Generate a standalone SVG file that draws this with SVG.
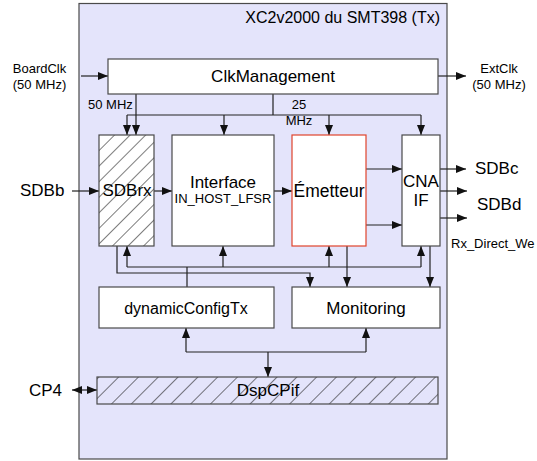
<svg xmlns="http://www.w3.org/2000/svg" width="537" height="461" viewBox="0 0 537 461">
<defs>
<style>
text{font-family:"Liberation Sans",Arial,sans-serif;fill:#000}
.box{fill:#fff;stroke:#4a4a4a;stroke-width:1.2}
.ln{fill:none;stroke:#222;stroke-width:1.2}
.arr{fill:none;stroke:#222;stroke-width:1.2;marker-end:url(#ah)}
.c{text-anchor:middle}
</style>
<marker id="ah" markerUnits="userSpaceOnUse" markerWidth="11" markerHeight="8" refX="10" refY="4" orient="auto-start-reverse">
<path d="M0,0 L10,4 L0,8 z" fill="#111"/>
</marker>
<pattern id="h1" patternUnits="userSpaceOnUse" width="11" height="11" patternTransform="rotate(45)">
<rect width="11" height="11" fill="#fff"/>
<line x1="0" y1="0" x2="0" y2="11" stroke="#111" stroke-width="1.1"/>
</pattern>
<pattern id="h2" patternUnits="userSpaceOnUse" width="14" height="14" patternTransform="rotate(45)">
<rect width="14" height="14" fill="#e4e4fb"/>
<line x1="0" y1="0" x2="0" y2="14" stroke="#111" stroke-width="1.1"/>
</pattern>
</defs>

<g id="fpga">
<rect x="79" y="3.5" width="368" height="455.5" fill="#e4e4fb" stroke="#4a4a4a" stroke-width="1.2"/>
<text x="440" y="23" font-size="16" text-anchor="end">XC2v2000 du SMT398 (Tx)</text>
</g>

<g id="connectors">
<path class="arr" d="M81,76 H108"/>
<path class="arr" d="M438,76 H466"/>
<path class="arr" d="M136,94 V135"/>
<path class="ln" d="M273,94 V115 M127,115 H421"/>
<path class="arr" d="M127,115 V135"/>
<path class="arr" d="M224,115 V135"/>
<path class="arr" d="M329,115 V135"/>
<path class="arr" d="M421,115 V135"/>
<path class="arr" d="M72,191 H99"/>
<path class="arr" d="M154,191 H172"/>
<path class="arr" d="M274,191 H292"/>
<path class="arr" d="M366,169 H402"/>
<path class="arr" d="M366,225 H402"/>
<path class="arr" d="M440,169 H466"/>
<path class="arr" d="M440,191 H467"/>
<path class="arr" d="M440,218 H467"/>
<path class="ln" d="M187,287 V267 M127,267 H421"/>
<path class="arr" d="M127,267 V246"/>
<path class="arr" d="M223,267 V246"/>
<path class="arr" d="M329,267 V246"/>
<path class="arr" d="M421,267 V246"/>
<path class="arr" d="M117,246 V273 H310 V287"/>
<path class="arr" d="M347,246 V287"/>
<path class="arr" d="M430,246 V287"/>
<path class="ln" d="M186,352 H366"/>
<path class="arr" d="M186,352 V328"/>
<path class="arr" d="M366,352 V328"/>
<path class="arr" d="M268,352 V377"/>
<path class="arr" d="M72,390 H97" marker-start="url(#ah)"/>
</g>

<g id="clkmanagement">
<rect class="box" x="108" y="59" width="330" height="35"/>
<text class="c" x="273" y="82" font-size="17">ClkManagement</text>
</g>
<g id="boardclk">
<text class="c" x="39.5" y="73" font-size="13">BoardClk</text>
<text class="c" x="39.5" y="89" font-size="13">(50 MHz)</text>
</g>
<g id="extclk">
<text class="c" x="499" y="73" font-size="13">ExtClk</text>
<text class="c" x="499" y="89" font-size="13">(50 MHz)</text>
</g>
<g id="labels-clk">
<text x="88" y="109" font-size="13">50 MHz</text>
<text class="c" x="299" y="109" font-size="13">25</text>
<text class="c" x="299" y="125" font-size="13">MHz</text>
</g>

<g id="sdbrx">
<rect x="99" y="135" width="55" height="111" fill="url(#h1)" stroke="#4a4a4a" stroke-width="1.2"/>
<text class="c" x="127" y="196" font-size="17">SDBrx</text>
</g>
<g id="interface">
<rect class="box" x="172" y="135" width="102" height="111"/>
<text class="c" x="223" y="188" font-size="17">Interface</text>
<text class="c" x="223" y="203" font-size="13">IN_HOST_LFSR</text>
</g>
<g id="emetteur">
<rect x="292" y="135" width="74" height="111" fill="#fff" stroke="#e0442c" stroke-width="1.2"/>
<text class="c" x="329" y="197" font-size="17.5">Émetteur</text>
</g>
<g id="cnaif">
<rect class="box" x="402" y="135" width="38" height="111"/>
<text class="c" x="421" y="187" font-size="17">CNA</text>
<text class="c" x="421" y="206" font-size="17">IF</text>
</g>

<g id="sdbb"><text x="20" y="196" font-size="17">SDBb</text></g>
<g id="sdbc"><text x="475" y="174" font-size="17">SDBc</text></g>
<g id="sdbd"><text x="477" y="210" font-size="17">SDBd</text></g>
<g id="rxdirect"><text x="451" y="248" font-size="13">Rx_Direct_We</text></g>

<g id="dynamicconfigtx">
<rect class="box" x="99" y="287" width="175" height="41"/>
<text class="c" x="186" y="314" font-size="16">dynamicConfigTx</text>
</g>
<g id="monitoring">
<rect class="box" x="292" y="287" width="148" height="41"/>
<text class="c" x="366" y="314" font-size="17">Monitoring</text>
</g>

<g id="dspcpif">
<rect x="97" y="377" width="341" height="27" fill="url(#h2)" stroke="#4a4a4a" stroke-width="1.2"/>
<text class="c" x="268" y="396" font-size="17">DspCPif</text>
</g>
<g id="cp4"><text x="29" y="396" font-size="17">CP4</text></g>
</svg>
